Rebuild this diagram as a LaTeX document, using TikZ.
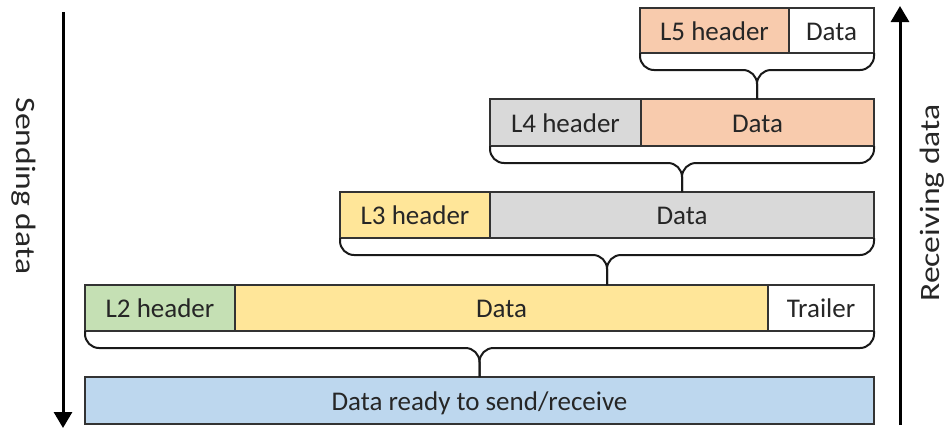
\documentclass[tikz,border=0pt]{standalone}
\usepackage{fontspec}
\setmainfont{Carlito}
\usetikzlibrary{arrows.meta,calc}
\definecolor{peach}{HTML}{F8CBAD}
\definecolor{lgray}{HTML}{D9D9D9}
\definecolor{lyellow}{HTML}{FFE699}
\definecolor{lgreen}{HTML}{C5E0B4}
\definecolor{lblue}{HTML}{BDD7EE}
\definecolor{bordercol}{HTML}{333333}
\definecolor{txtcol}{HTML}{262626}
\newcommand\drawbrace[4]{%
  \coordinate (#4m) at ($(#1.south west)!0.5!(#2.south east)$);
  \draw[bracestyle] (#1.south west) -- ++(0,17) coordinate (#4l) -- (#4l -| #4m) -- (#4m |- #3.north);
  \draw[bracestyle] (#2.south east) -- ++(0,17) coordinate (#4r) -- (#4r -| #4m) -- (#4m |- #3.north);
}
\begin{document}
\begin{tikzpicture}[x=1pt,y=-1pt,
  box/.style={draw=bordercol, line width=1.2pt, inner sep=0pt, outer sep=0pt, anchor=north west,
    font=\fontsize{27}{32}\selectfont, text=txtcol, text height=19pt, text depth=0pt},
  bracestyle/.style={draw=black!90, line width=2pt, rounded corners=14pt},
  bigarrow/.style={line width=3pt, -{Triangle[width=18pt,length=16pt]}},
  sidelabel/.style={font=\fontsize{28}{32}\selectfont, text=txtcol, inner sep=0pt}]
\useasboundingbox (0,0) rectangle (948,429);
% row 5
\node[box, fill=peach, minimum width=149pt, minimum height=45pt] (l5h) at (640,8) {L5 header};
\node[box, fill=white, minimum width=85pt, minimum height=45pt] (d5) at (789,8) {Data};
% row 4
\node[box, fill=lgray, minimum width=151pt, minimum height=47pt] (l4h) at (490,99) {L4 header};
\node[box, fill=peach, minimum width=233pt, minimum height=47pt] (d4) at (641,99) {Data};
% row 3
\node[box, fill=lyellow, minimum width=150pt, minimum height=46pt] (l3h) at (340,192) {L3 header};
\node[box, fill=lgray, minimum width=384pt, minimum height=46pt] (d3) at (490,192) {Data};
% row 2
\node[box, fill=lgreen, minimum width=150pt, minimum height=46pt] (l2h) at (85,285) {L2 header};
\node[box, fill=lyellow, minimum width=533pt, minimum height=46pt] (d2) at (235,285) {Data};
\node[box, fill=white, minimum width=106pt, minimum height=46pt] (tr) at (768,285) {Trailer};
% row 1
\node[box, fill=lblue, minimum width=789pt, minimum height=47pt] (ready) at (85,377) {Data ready to send/receive};
% braces
\drawbrace{l5h}{d5}{l4h}{ba}
\drawbrace{l4h}{d4}{l3h}{bb}
\drawbrace{l3h}{d3}{l2h}{bc}
\drawbrace{l2h}{tr}{ready}{bd}
% arrows
\coordinate (st) at (63,12);
\coordinate (sb) at (63,428);
\coordinate (rb) at (900,425);
\coordinate (rt) at (900,6);
\draw[bigarrow] (st) -- (sb);
\draw[bigarrow] (rb) -- (rt);
\node[sidelabel, rotate=-90] (send) at (24,186) {\scalebox{1.2}[1]{Sending data}};
\node[sidelabel, rotate=90] (recv) at (932,203) {\scalebox{1.2}[1]{Receiving data}};
\end{tikzpicture}
\end{document}
